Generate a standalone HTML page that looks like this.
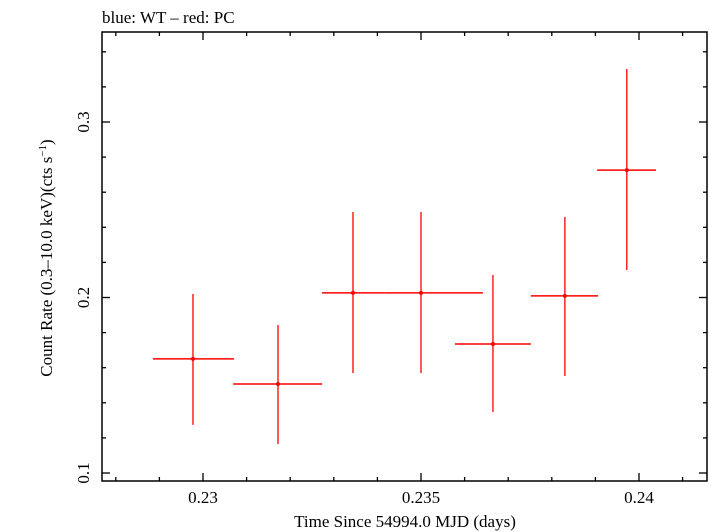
<!DOCTYPE html>
<html><head><meta charset="utf-8"><style>
html,body{margin:0;padding:0;background:#fff;}
svg{display:block;font-family:"Liberation Serif",serif;}
</style></head><body>
<svg id="chart" width="709" height="532" viewBox="0 0 709 532" xmlns="http://www.w3.org/2000/svg">
<text x="102" y="23" font-size="17">blue: WT – red: PC</text>
<rect x="102" y="32" width="605" height="449" fill="none" stroke="#000" stroke-width="1.5"/>
<g id="ticks"></g>
<g id="series"></g>
<text x="405" y="527" font-size="17" text-anchor="middle">Time Since 54994.0 MJD (days)</text>
<text transform="translate(52,258) rotate(-90)" font-size="17" text-anchor="middle">Count Rate (0.3–10.0 keV)(cts s<tspan dy="-6" font-size="11">−1</tspan><tspan dy="6">)</tspan></text>
</svg>
<script>
const times=[0.22977,0.23172,0.23344,0.2350,0.23665,0.23830,0.23972];
const timeLo=[0.22885,0.23069,0.23273,0.23417,0.23578,0.23752,0.23904];
const timeHi=[0.23071,0.23273,0.23417,0.23642,0.23752,0.23906,0.24039];
const rates=[0.165,0.1507,0.2026,0.2026,0.1735,0.2009,0.2726];
const rateLo=[0.1274,0.1165,0.157,0.157,0.1348,0.1553,0.2157];
const rateHi=[0.2020,0.1843,0.2487,0.2487,0.2128,0.2459,0.3302];
const xTickLabels=["0.23","0.235","0.24"];
const yTickLabels=["0.1","0.2","0.3"];
const NS="http://www.w3.org/2000/svg";
const L=102,R=707,T=32,B=481;
const xs=v=>203+(v-0.23)*43600;
const ys=v=>473-(v-0.1)*1755;
function mk(tag,attrs,parent){const e=document.createElementNS(NS,tag);for(const k in attrs)e.setAttribute(k,attrs[k]);parent.appendChild(e);return e;}
const tg=document.getElementById('ticks');
for(let i=0;i<=14;i++){
  const v=0.228+i*0.001;const x=xs(v);if(x<L||x>R)continue;
  const major=Math.abs(Math.round(v*200)-v*200)<1e-6;const len=major?8:4;
  const t1=mk('line',{x1:x,x2:x,y1:B,y2:B-len,stroke:'#000','stroke-width':1.3},tg);
  
  
  const t2=mk('line',{x1:x,x2:x,y1:T,y2:T+len,stroke:'#000','stroke-width':1.3},tg);
  
  
}
xTickLabels.forEach(s=>{const t=mk('text',{x:xs(parseFloat(s)),y:503,'font-size':17,'text-anchor':'middle'},tg);t.textContent=s;
  
  });
for(let i=0;i<=13;i++){
  const v=0.1+i*0.02;const y=ys(v);if(y<T||y>B)continue;
  const major=i%5===0;const len=major?8:4;
  const t1=mk('line',{x1:L,x2:L+len,y1:y,y2:y,stroke:'#000','stroke-width':1.3},tg);
  
  
  const t2=mk('line',{x1:R,x2:R-len,y1:y,y2:y,stroke:'#000','stroke-width':1.3},tg);
  
  
}
yTickLabels.forEach(s=>{const y=ys(parseFloat(s));const t=mk('text',{transform:`translate(89,${y}) rotate(-90)`,'font-size':17,'text-anchor':'middle'},tg);t.textContent=s;
  
  });
const sg=document.getElementById('series');
times.forEach((t,i)=>{
  const g=mk('g',{},sg);
  
  
  mk('line',{x1:xs(timeLo[i]),x2:xs(timeHi[i]),y1:ys(rates[i]),y2:ys(rates[i]),stroke:'#f00','stroke-width':1.5},g);
  mk('line',{x1:xs(t),x2:xs(t),y1:ys(rateLo[i]),y2:ys(rateHi[i]),stroke:'#f00','stroke-width':1.3},g);
  mk('circle',{cx:xs(t),cy:ys(rates[i]),r:2,fill:'#f00'},g);
});
</script>
</body></html>
